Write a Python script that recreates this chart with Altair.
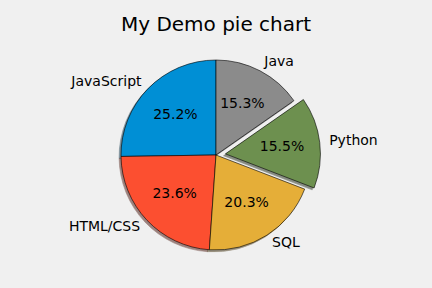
import altair as alt
import pandas as pd
import math

labels = ["JavaScript", "HTML/CSS", "SQL", "Python", "Java"]
values = [59219, 55466, 47544, 36443, 35917]
explode = [0, 0, 0, 0.1, 0]
colors = ["#008fd5", "#fc4f30", "#e5ae38", "#6d904f", "#8b8b8b"]
title_text = "My Demo pie chart"


def shade(h, f=0.3):
    r, g, b = int(h[1:3], 16), int(h[3:5], 16), int(h[5:7], 16)
    return "#%02x%02x%02x" % (int(r * f), int(g * f), int(b * f))


shadow_colors = [shade(c) for c in colors]

df = pd.DataFrame({"label": labels, "value": values, "explode": explode,
                   "idx": list(range(len(labels)))})

CX, CY, R = 216, 115, 95
FONT = "DejaVu Sans"

base = (
    alt.Chart(df)
    .transform_joinaggregate(total="sum(value)")
    .transform_window(cum="sum(value)",
                      sort=[alt.SortField("idx", order="descending")],
                      frame=[None, 0])
    .transform_calculate(start="(datum.cum - datum.value) / datum.total",
                         end="datum.cum / datum.total")
    .transform_calculate(mid="(datum.start + datum.end) / 2")
    .transform_calculate(
        cx=f"{CX} + datum.explode * {R} * sin(2 * PI * datum.mid)",
        cy=f"{CY} - datum.explode * {R} * cos(2 * PI * datum.mid)",
        pct="format(datum.value / datum.total * 100, '.1f') + '%'",
    )
)

theta_scale = alt.Scale(domain=[0, 1], range=[0, 2 * math.pi])
xenc = alt.X("cx:Q", scale=None, axis=None)
yenc = alt.Y("cy:Q", scale=None, axis=None)

shadow = base.mark_arc(radius=R, opacity=0.5, xOffset=-0.02 * R, yOffset=0.02 * R,
                       strokeWidth=0.6).encode(
    x=xenc, y=yenc,
    theta=alt.Theta("start:Q", scale=theta_scale, stack=None),
    theta2="end:Q",
    fill=alt.Fill("label:N", scale=alt.Scale(domain=labels, range=shadow_colors), legend=None),
    stroke=alt.Stroke("label:N", scale=alt.Scale(domain=labels, range=shadow_colors), legend=None),
)

wedges = base.mark_arc(radius=R, stroke="black", strokeWidth=0.6).encode(
    x=xenc, y=yenc,
    theta=alt.Theta("start:Q", scale=theta_scale, stack=None),
    theta2="end:Q",
    color=alt.Color("label:N", scale=alt.Scale(domain=labels, range=colors), legend=None),
)

txt = dict(fontSize=14, font=FONT, color="black", baseline="middle")

labels_right = base.transform_filter("datum.mid < 0.5").mark_text(
    radius=1.1 * R, align="left", **txt).encode(
    x=xenc, y=yenc,
    theta=alt.Theta("mid:Q", scale=theta_scale, stack=None),
    text="label:N",
)
labels_left = base.transform_filter("datum.mid >= 0.5").mark_text(
    radius=1.1 * R, align="right", **txt).encode(
    x=xenc, y=yenc,
    theta=alt.Theta("mid:Q", scale=theta_scale, stack=None),
    text="label:N",
)
pcts = base.mark_text(radius=0.6 * R, align="center", **txt).encode(
    x=xenc, y=yenc,
    theta=alt.Theta("mid:Q", scale=theta_scale, stack=None),
    text="pct:N",
)

chart = (
    alt.layer(shadow, wedges, labels_right, labels_left, pcts)
    .resolve_scale(theta="shared")
    .properties(
        width=432, height=248,
        padding={"left": 0, "right": 0, "top": 40, "bottom": 0},
        autosize=alt.AutoSizeParams(type="none"),
        title=alt.TitleParams(title_text, fontSize=20, font=FONT, fontWeight="normal",
                              color="black", anchor="middle", offset=5),
        background="#f0f0f0",
    )
    .configure_view(stroke=None)
)

chart.save("out.html", embed_options={"renderer": "svg", "actions": False})
